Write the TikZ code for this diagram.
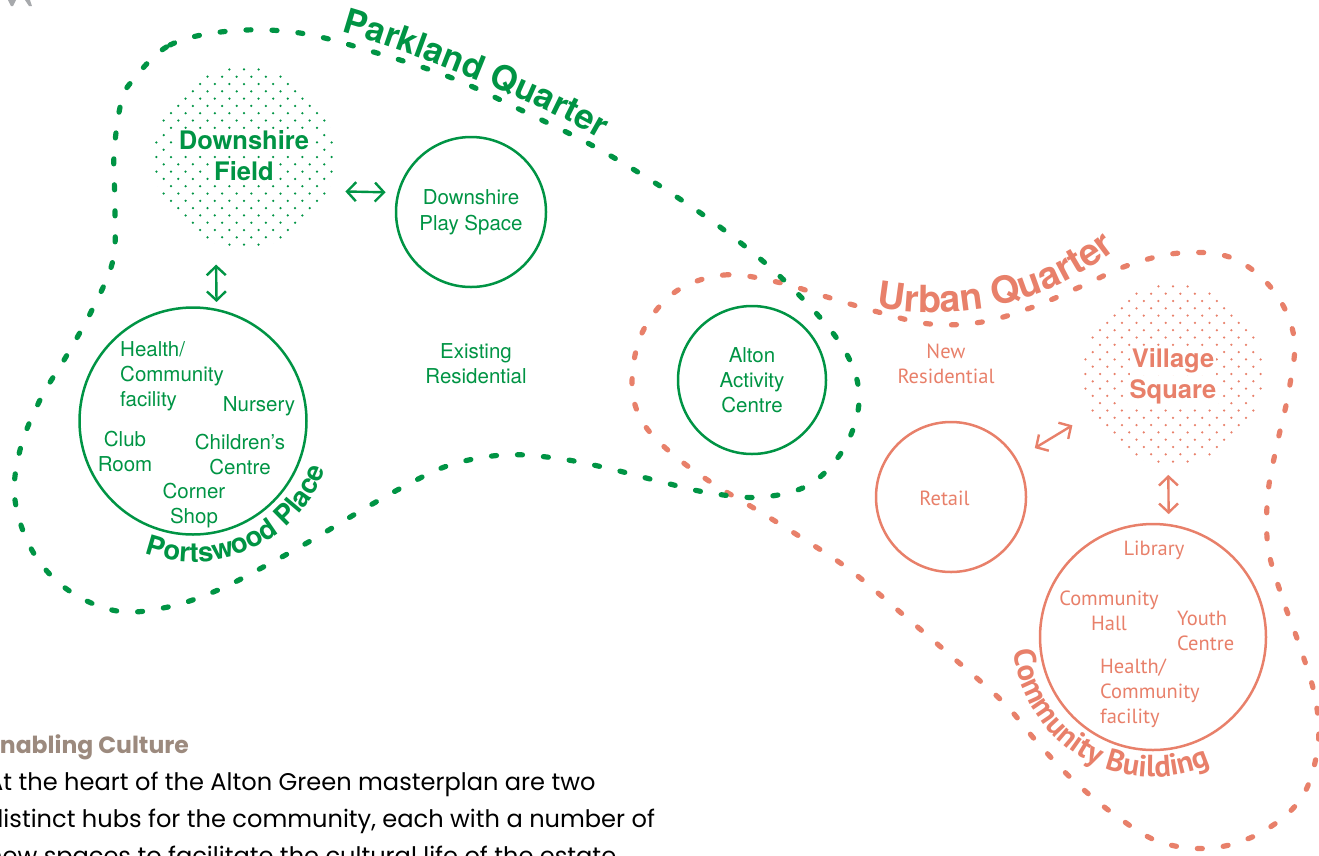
\documentclass[tikz,border=0pt]{standalone}
\usepackage{fontspec}
\setmainfont{TeX Gyre Heros}
\newfontfamily\hfont{TeX Gyre Heros}
\newfontfamily\mfont{PT Sans}
\newfontfamily\pfont{Poppins}
\usetikzlibrary{arrows.meta,decorations.text}
\definecolor{pgreen}{HTML}{009444}
\definecolor{psalmon}{HTML}{E8806A}
\definecolor{ptitle}{HTML}{9C8A7E}
\definecolor{pgrey}{HTML}{A7A9AC}
\tikzset{curvebox/.style={inner sep=0pt, outer sep=0pt, anchor=north west},
         arcbox/.style={inner sep=0pt, outer sep=0pt, anchor=south west}}
\begin{document}
\begin{tikzpicture}[x=1pt,y=-1pt,
  zone/.style={line width=5.2pt, line cap=round, dash pattern=on 5pt off 21pt},
  hub/.style={circle, draw, line width=2.5pt, inner sep=0pt, outer sep=0pt},
  field/.style={circle, inner sep=0pt, outer sep=0pt},
  glab/.style={font=\hfont\fontsize{20.5}{25}\selectfont, text=pgreen, align=center, inner sep=0pt},
  slab/.style={font=\mfont\fontsize{20.5}{25}\selectfont, text=psalmon, align=center, inner sep=0pt},
  gbold/.style={font=\hfont\bfseries\fontsize{25.5}{31}\selectfont, text=pgreen, fill=white, inner sep=1.5pt},
  sbold/.style={font=\hfont\bfseries\fontsize{25.5}{31}\selectfont, text=psalmon, fill=white, inner sep=1.5pt},
  dbl/.style={line width=2.4pt, arrows={Straight Barb[length=9pt,width=19pt]-Straight Barb[length=9pt,width=19pt]}},
  body/.style={font=\pfont\fontsize{24.1}{37}\selectfont, text=black, inner sep=0pt, anchor=base west}
]
\useasboundingbox (0,0) rectangle (1319,855);
\clip (0,0) rectangle (1319,855);

% grey remnant marks at the top left
\fill[pgrey] (8,0) -- (16,0) -- (13,6) -- (11,6) -- cycle;
\fill[pgrey] (25,0) -- (30,0) -- (32,6) -- (29,6) -- cycle;

% Urban Quarter boundary
\draw[zone, psalmon] plot[smooth cycle, tension=0.6] coordinates {
 (675,292) (724,275) (777,282) (827,297) (878,312) (930,324) (982,322) (1033,307)
 (1082,286) (1129,265) (1180,253) (1232,258) (1273,290) (1294,337) (1289,390)
 (1278,440) (1268,493) (1268,547) (1282,597) (1300,647) (1315,697) (1318,745)
 (1302,797) (1262,832) (1212,848) (1160,842) (1115,815) (1073,780) (1037,742)
 (1003,702) (950,655) (900,612) (850,570) (802,538) (757,510) (712,483) (670,452)
 (642,421) (632,384) (642,333)};

% Parkland Quarter boundary
\draw[zone, pgreen] plot[smooth cycle, tension=0.6] coordinates {
 (133,80) (170,45) (230,31) (300,33) (377,53) (452,78) (523,111) (595,147) (663,188)
 (728,233) (788,284) (840,343) (859,393) (847,443) (812,483) (763,497) (710,493)
 (658,481) (607,468) (555,458) (503,455) (450,465) (403,487) (357,513) (312,540)
 (267,565) (218,590) (168,607) (117,611) (68,590) (33,552) (15,500) (20,450)
 (40,400) (67,355) (93,308) (113,260) (115,207) (114,155) (121,103)};

% stippled fields
\begin{scope}
\clip (244,157) circle[radius=91pt];
\foreach \i in {-7,...,7}{\foreach \j in {-7,...,7}{
  \fill[pgreen] ({244+14.6*\i},{157+14.6*\j}) circle[radius=1.25pt];
  \fill[pgreen] ({244+14.6*\i+7.3},{157+14.6*\j+7.3}) circle[radius=1.25pt];}}
\end{scope}
\begin{scope}
\clip (1173,374) circle[radius=91pt];
\foreach \i in {-7,...,7}{\foreach \j in {-7,...,7}{
  \fill[psalmon] ({1173+14.6*\i},{374+14.6*\j}) circle[radius=1.25pt];
  \fill[psalmon] ({1173+14.6*\i+7.3},{374+14.6*\j+7.3}) circle[radius=1.25pt];}}
\end{scope}

% green hubs
\node[field, minimum size=182pt] (df) at (244,157) {};
\node[gbold] (dft1) at (244,140) {Downshire};
\node[gbold] (dft2) at (244,171) {Field};
\node[hub, draw=pgreen, minimum size=150pt, glab, font=\hfont\fontsize{20.5}{26}\selectfont] (dps) at (471,212) {Downshire\\Play Space};
\node[hub, draw=pgreen, minimum size=227pt] (pw) at (193,421) {};
\node[glab, align=left, anchor=west] (hcf) at (120,376) {Health/\\Community\\facility};
\node[glab] (nur) at (259,406) {Nursery};
\node[glab] (club) at (125,451) {Club\\Room};
\node[glab] (chc) at (240,455) {Children’s\\Centre};
\node[glab] (cs) at (194,506) {Corner\\Shop};
\node[glab] (er) at (476,364) {Existing\\Residential};
\node[hub, draw=pgreen, minimum size=148pt, glab] (aac) at (752,380) {Alton\\Activity\\Centre};

% salmon hubs
\node[field, minimum size=182pt] (vs) at (1173,374) {};
\node[sbold] (vst1) at (1173,361) {Village};
\node[sbold] (vst2) at (1173,392) {Square};
\node[hub, draw=psalmon, minimum size=150pt] (ret) at (951,497) {};
\node[slab] (rett) at (944.5,498) {Retail};
\node[slab] (nr) at (946,364) {New\\Residential};
\node[hub, draw=psalmon, minimum size=226pt] (cb) at (1153,637) {};
\node[slab] (lib) at (1154,550) {Library};
\node[slab] (ch) at (1109,611) {Community\\Hall};
\node[slab, align=left, anchor=west] (yc) at (1177,631) {Youth\\Centre};
\node[slab, align=left, anchor=west] (hcf2) at (1100,693) {Health/\\Community\\facility};

% arrows
\draw[dbl, pgreen, shorten <=17pt, shorten >=13pt] (df.-22.6) -- (dps.165.3);
\draw[dbl, pgreen, shorten <=21pt, shorten >=8pt] (df.-108.6) -- (pw.78.8);
\draw[dbl, psalmon, shorten <=22pt, shorten >=22pt] (ret.30.5) -- (vs.206.3);
\draw[dbl, psalmon, shorten <=10pt, shorten >=11pt] (vs.-93.7) -- (cb.82.9);

% labels along paths (drawn in local pictures)
\node[curvebox] (pq) at (320,20) {\tikz[x=1pt,y=-1pt]{\useasboundingbox (0,0) rectangle (1,1);
  \path[decorate, decoration={text along path, text align=center,
  text={|\hfont\bfseries\fontsize{34.5}{34.5}\selectfont\color{pgreen}|Parkland Quarter}}]
  (6,8) .. controls (60,20) and (220,80) .. (294,127);}};
\node[curvebox] (uq) at (870,230) {\tikz[x=1pt,y=-1pt]{\useasboundingbox (0,0) rectangle (1,1);
  \path[decorate, decoration={text along path, text align=center,
  text={|\hfont\bfseries\fontsize{37.5}{37.5}\selectfont\color{psalmon}|Urban Quarter}}]
  (-6,75) .. controls (70,92) and (170,85) .. (256,11);}};
\node[arcbox] (pp) at (193,421) {\tikz[x=1pt,y=1pt]{\useasboundingbox (0,0) rectangle (1,1);
  \path[decorate, decoration={text along path, text align=center,
  text={|\hfont\bfseries\fontsize{27.5}{27.5}\selectfont\color{pgreen}|Portswood Place}}]
  (205:141) arc[start angle=205, end angle=385, radius=141];}};
\node[arcbox] (cbl) at (1153,637) {\tikz[x=1pt,y=1pt]{\useasboundingbox (0,0) rectangle (1,1);
  \path[decorate, decoration={text along path, text align=center,
  text={|\mfont\bfseries\fontsize{30.5}{30.5}\selectfont\color{psalmon}|Community Building}}]
  (150:140) arc[start angle=150, end angle=330, radius=140];}};

% text block
\node[body, font=\pfont\bfseries\fontsize{23.5}{30}\selectfont, text=ptitle] (t0) at (-13,753) {Enabling Culture};
\node[body] (t1) at (-13,790) {At the heart of the Alton Green masterplan are two};
\node[body] (t2) at (-13,827) {distinct hubs for the community, each with a number of};
\node[body] (t3) at (-13,864) {new spaces to facilitate the cultural life of the estate.};
\end{tikzpicture}
\end{document}
